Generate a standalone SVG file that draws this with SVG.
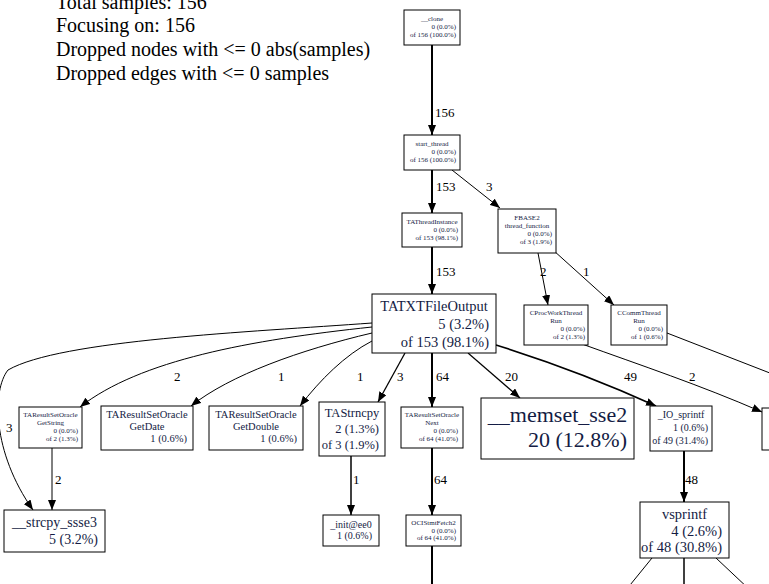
<svg xmlns="http://www.w3.org/2000/svg" width="769" height="584" viewBox="0 0 769 584">
<style>
text{font-family:"Liberation Serif","Times New Roman",serif;fill:#000}
.nt{fill:#141c44}
.c{text-anchor:middle}
.r{text-anchor:end}
.box{fill:#fff;stroke:#000;stroke-width:1}
.e{fill:none;stroke:#000}
.el{font-size:13px}
.f7{font-size:7px}
.f10{font-size:10px}
.f105{font-size:10.5px}
.f125{font-size:12.5px}
.f14{font-size:14px}
.f145{font-size:14.5px}
.f22{font-size:22px}
.lg{font-size:20px}
</style>
<defs>
<marker id="ah" markerUnits="userSpaceOnUse" markerWidth="10" markerHeight="8" refX="10" refY="4" orient="auto">
<path d="M0,0 L10,4 L0,8 z" fill="#000"/>
</marker>
</defs>
<rect width="769" height="584" fill="#fff"/>
<g id="legend">
<text class="lg" x="56" y="9">Total samples: 156</text>
<text class="lg" x="56" y="32">Focusing on: 156</text>
<text class="lg" x="56" y="56">Dropped nodes with &lt;= 0 abs(samples)</text>
<text class="lg" x="56" y="80">Dropped edges with &lt;= 0 samples</text>
</g>
<g id="edges">
<path class="e" d="M432,45 L432,135" stroke-width="2" marker-end="url(#ah)"/>
<text class="el" x="435" y="117">156</text>
<path class="e" d="M432,170 L432,213" stroke-width="2" marker-end="url(#ah)"/>
<text class="el" x="436" y="191">153</text>
<path class="e" d="M452,170 L500,208" marker-end="url(#ah)"/>
<text class="el" x="486" y="191">3</text>
<path class="e" d="M432,247 L432,294" stroke-width="2" marker-end="url(#ah)"/>
<text class="el" x="436" y="276">153</text>
<path class="e" d="M538,253 L548,305" marker-end="url(#ah)"/>
<text class="el" x="540" y="276">2</text>
<path class="e" d="M553,250 L614,305" marker-end="url(#ah)"/>
<text class="el" x="583" y="276">1</text>
<path class="e" d="M667,333 L775,375"/>
<path class="e" d="M582,344 C640,365 700,385 762,412" marker-end="url(#ah)"/>
<text class="el" x="689" y="381">2</text>
<path class="e" d="M372,323 C250,332 60,340 8,370 C-8,390 -8,452 33,510" marker-end="url(#ah)"/>
<text class="el" x="6" y="432">3</text>
<path class="e" d="M372,327 C250,340 140,360 80,407" marker-end="url(#ah)"/>
<text class="el" x="174" y="381">2</text>
<path class="e" d="M372,333 C300,350 230,375 191,406" marker-end="url(#ah)"/>
<text class="el" x="278" y="381">1</text>
<path class="e" d="M372,341 C345,355 320,380 300,406" marker-end="url(#ah)"/>
<text class="el" x="357" y="381">1</text>
<path class="e" d="M405,353 L378,402" stroke-width="1.3" marker-end="url(#ah)"/>
<text class="el" x="397" y="381">3</text>
<path class="e" d="M432,353 L432,407" stroke-width="2" marker-end="url(#ah)"/>
<text class="el" x="436" y="381">64</text>
<path class="e" d="M468,353 L520,398" stroke-width="1.2" marker-end="url(#ah)"/>
<text class="el" x="505" y="381">20</text>
<path class="e" d="M496,345 C560,365 610,385 656,406" stroke-width="1.6" marker-end="url(#ah)"/>
<text class="el" x="624" y="381">49</text>
<path class="e" d="M52,448 L52,510" stroke="#888" marker-end="url(#ah)"/>
<text class="el" x="55" y="484">2</text>
<path class="e" d="M351,456 L351,515" stroke-width="1.5" marker-end="url(#ah)"/>
<text class="el" x="353" y="484">1</text>
<path class="e" d="M432,448 L432,515" stroke-width="2" marker-end="url(#ah)"/>
<text class="el" x="434" y="484">64</text>
<path class="e" d="M432,546 L432,590" stroke-width="2"/>
<path class="e" d="M684,451 L684,502" stroke-width="2" marker-end="url(#ah)"/>
<text class="el" x="685" y="484">48</text>
<path class="e" d="M652,558 L626,590"/>
<path class="e" d="M684,558 L684,590" stroke-width="1.5"/>
<path class="e" d="M716,558 L750,590"/>
</g>
<g id="n_clone">
<rect class="box" x="404" y="10" width="56" height="35"/>
<text class="nt f7 c" x="432" y="21">__clone</text>
<text class="nt f7 r" x="456" y="29">0 (0.0%)</text>
<text class="nt f7 r" x="456" y="37">of 156 (100.0%)</text>
</g>
<g id="n_start_thread">
<rect class="box" x="404" y="135" width="56" height="35"/>
<text class="nt f7 c" x="432" y="146">start_thread</text>
<text class="nt f7 r" x="456" y="154">0 (0.0%)</text>
<text class="nt f7 r" x="456" y="162">of 156 (100.0%)</text>
</g>
<g id="n_TAThreadInstance">
<rect class="box" x="402" y="213" width="60" height="34"/>
<text class="nt f7 c" x="432" y="224">TAThreadInstance</text>
<text class="nt f7 r" x="458" y="232">0 (0.0%)</text>
<text class="nt f7 r" x="458" y="240">of 153 (98.1%)</text>
</g>
<g id="n_FBASE2">
<rect class="box" x="498" y="209" width="58" height="44"/>
<text class="nt f7 c" x="527" y="220">FBASE2</text>
<text class="nt f7 c" x="527" y="228">thread_function</text>
<text class="nt f7 r" x="552" y="236">0 (0.0%)</text>
<text class="nt f7 r" x="552" y="244">of 3 (1.9%)</text>
</g>
<g id="n_TATXTFileOutput">
<rect class="box" x="372" y="294" width="124" height="59"/>
<text class="nt f145 c" x="434" y="311">TATXTFileOutput</text>
<text class="nt f145 r" x="489" y="329">5 (3.2%)</text>
<text class="nt f145 r" x="489" y="347">of 153 (98.1%)</text>
</g>
<g id="n_CProcWorkThread">
<rect class="box" x="524" y="305" width="64" height="40"/>
<text class="nt f7 c" x="556" y="315">CProcWorkThread</text>
<text class="nt f7 c" x="556" y="323">Run</text>
<text class="nt f7 r" x="585" y="331">0 (0.0%)</text>
<text class="nt f7 r" x="585" y="339">of 2 (1.3%)</text>
</g>
<g id="n_CCommThread">
<rect class="box" x="611" y="305" width="56" height="40"/>
<text class="nt f7 c" x="639" y="315">CCommThread</text>
<text class="nt f7 c" x="639" y="323">Run</text>
<text class="nt f7 r" x="663" y="331">0 (0.0%)</text>
<text class="nt f7 r" x="663" y="339">of 1 (0.6%)</text>
</g>
<g id="n_GetString">
<rect class="box" x="19" y="407" width="63" height="41"/>
<text class="nt f7 c" x="50.5" y="417">TAResultSetOracle</text>
<text class="nt f7 c" x="50.5" y="425">GetString</text>
<text class="nt f7 r" x="78" y="433">0 (0.0%)</text>
<text class="nt f7 r" x="78" y="441">of 2 (1.3%)</text>
</g>
<g id="n_GetDate">
<rect class="box" x="101" y="406" width="92" height="44"/>
<text class="nt f105 c" x="147" y="418">TAResultSetOracle</text>
<text class="nt f105 c" x="147" y="430">GetDate</text>
<text class="nt f105 r" x="187" y="442">1 (0.6%)</text>
</g>
<g id="n_GetDouble">
<rect class="box" x="209" y="406" width="94" height="44"/>
<text class="nt f105 c" x="256" y="418">TAResultSetOracle</text>
<text class="nt f105 c" x="256" y="430">GetDouble</text>
<text class="nt f105 r" x="297" y="442">1 (0.6%)</text>
</g>
<g id="n_TAStrncpy">
<rect class="box" x="319" y="402" width="66" height="54"/>
<text class="nt f125 c" x="352" y="417">TAStrncpy</text>
<text class="nt f125 r" x="379" y="433">2 (1.3%)</text>
<text class="nt f125 r" x="379" y="449">of 3 (1.9%)</text>
</g>
<g id="n_Next">
<rect class="box" x="401" y="407" width="62" height="41"/>
<text class="nt f7 c" x="432" y="417">TAResultSetOracle</text>
<text class="nt f7 c" x="432" y="425">Next</text>
<text class="nt f7 r" x="458" y="433">0 (0.0%)</text>
<text class="nt f7 r" x="458" y="441">of 64 (41.0%)</text>
</g>
<g id="n_memset">
<rect class="box" x="481" y="398" width="153" height="61"/>
<text class="nt f22 c" x="557.5" y="422">__memset_sse2</text>
<text class="nt f22 r" x="627" y="447">20 (12.8%)</text>
</g>
<g id="n_IO_sprintf">
<rect class="box" x="650" y="406" width="62" height="45"/>
<text class="nt f10 c" x="681" y="418">_IO_sprintf</text>
<text class="nt f10 r" x="708" y="431">1 (0.6%)</text>
<text class="nt f10 r" x="708" y="444">of 49 (31.4%)</text>
</g>
<g id="n_right">
<rect class="box" x="762" y="408" width="30" height="42"/>
</g>
<g id="n_strcpy">
<rect class="box" x="4" y="510" width="101" height="42"/>
<text class="nt f14 c" x="54.5" y="527">__strcpy_ssse3</text>
<text class="nt f14 r" x="98" y="544">5 (3.2%)</text>
</g>
<g id="n_init">
<rect class="box" x="323" y="515" width="56" height="31"/>
<text class="nt f10 c" x="351" y="528">_init@ee0</text>
<text class="nt f10 r" x="372" y="539">1 (0.6%)</text>
</g>
<g id="n_OCIStmtFetch2">
<rect class="box" x="406" y="515" width="55" height="31"/>
<text class="nt f7 c" x="433.5" y="525">OCIStmtFetch2</text>
<text class="nt f7 r" x="456" y="532.5">0 (0.0%)</text>
<text class="nt f7 r" x="456" y="540">of 64 (41.0%)</text>
</g>
<g id="n_vsprintf">
<rect class="box" x="640" y="502" width="89" height="56"/>
<text class="nt f145 c" x="684.5" y="519">vsprintf</text>
<text class="nt f145 r" x="722" y="536">4 (2.6%)</text>
<text class="nt f145 r" x="722" y="552">of 48 (30.8%)</text>
</g>
</svg>
